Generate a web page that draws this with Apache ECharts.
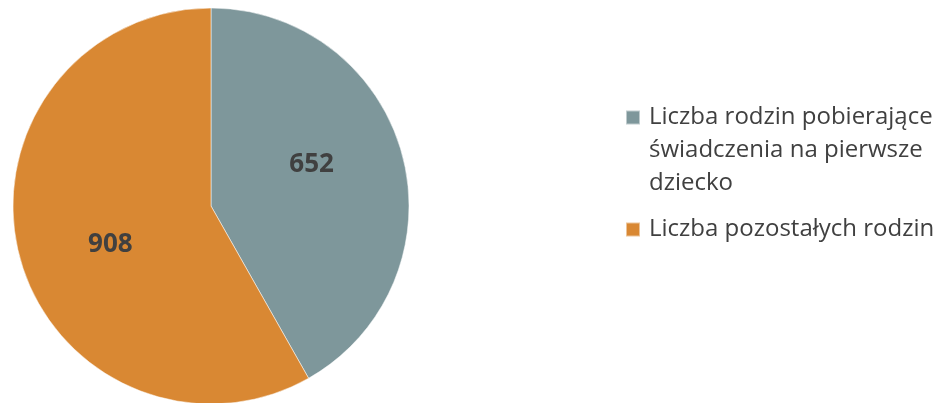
<!DOCTYPE html>
<html><head><meta charset="utf-8">
<script src="https://cdn.jsdelivr.net/npm/echarts@6/dist/echarts.min.js"></script>
<style>html,body{margin:0;padding:0;background:#fff}#c{width:941px;height:403px}</style>
</head><body><div id="c"></div>
<script>
const categories = ['Liczba rodzin pobierające świadczenia na pierwsze dziecko', 'Liczba pozostałych rodzin'];
const values = [652, 908];
const colors = ['#7E979B', '#D98833'];
const legendLines = {
  'Liczba rodzin pobierające świadczenia na pierwsze dziecko': ['Liczba rodzin pobierające', 'świadczenia na pierwsze', 'dziecko'],
  'Liczba pozostałych rodzin': ['Liczba pozostałych rodzin']
};
const chart = echarts.init(document.getElementById('c'), null, {renderer: 'canvas'});
const labelShift = [[2, -15], [-2, 13]];
chart.setOption({
  animation: false,
  color: colors,
  legend: {
    orient: 'vertical',
    left: 625,
    top: 35,
    padding: 0,
    itemWidth: 14,
    itemHeight: 14,
    itemGap: 13,
    icon: 'rect',
    formatter: n => (legendLines[n] || [n]).map(s => '{t|' + s + '}').join('\n'),
    data: [
      {name: categories[0], textStyle: {padding: [66, 0, 0, 4]}},
      {name: categories[1], textStyle: {padding: [0, 0, 0, 4]}}
    ],
    textStyle: {
      fontFamily: 'Open Sans',
      fontSize: 24,
      color: '#404040',
      lineHeight: 33,
      rich: {
        t: {fontFamily: 'Open Sans', fontSize: 24, color: '#404040', lineHeight: 33}
      }
    }
  },
  series: [{
    type: 'pie',
    center: [211, 206],
    radius: 198,
    startAngle: 90,
    clockwise: true,
    itemStyle: {borderColor: 'rgba(255,255,255,0.5)', borderWidth: 1},
    label: {
      show: true,
      position: 'inside',
      formatter: '{c}',
      fontFamily: 'Open Sans',
      fontWeight: 'bold',
      fontSize: 26,
      color: '#404040'
    },
    labelLayout: p => ({dx: labelShift[p.dataIndex][0], dy: labelShift[p.dataIndex][1]}),
    labelLine: {show: false},
    emphasis: {disabled: true},
    data: categories.map((c, i) => ({name: c, value: values[i]}))
  }]
});
</script></body></html>
